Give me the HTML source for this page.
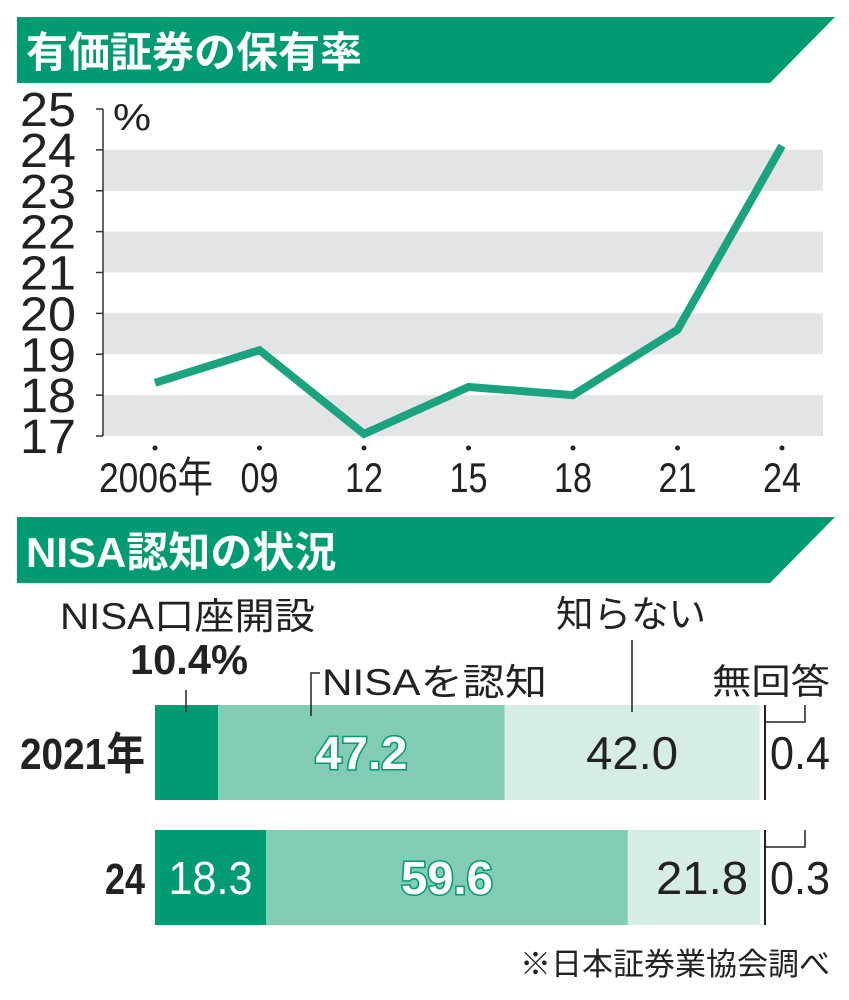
<!DOCTYPE html>
<html><head><meta charset="utf-8"><style>
body{margin:0;background:#fff}
svg{display:block}
text{font-family:"Liberation Sans","Noto Sans CJK JP",sans-serif}
</style></head><body>
<svg id="c" width="849" height="1000" viewBox="0 0 849 1000">
<polygon points="17,17 835,17 770,83 17,83" fill="#009a73"/>
<text x="26" y="67" font-size="42" font-weight="bold" fill="#fff">有価証券の保有率</text>
<g id="line-chart"></g>
<polygon points="17,517 835,517 770,583 17,583" fill="#009a73"/>
<text x="26" y="567" font-size="42" font-weight="bold" fill="#fff">NISA認知の状況</text>
<g id="bar-chart"></g>
<text x="830" y="975" font-size="31" text-anchor="end" fill="#222">※日本証券業協会調べ</text>
</svg>
<script>
const years=["2006年","09","12","15","18","21","24"];
const rates=[18.3,19.1,17.05,18.2,18.0,19.6,24.1];
const yTicks=[17,18,19,20,21,22,23,24,25];
const barRows=["2021年","24"];
const opened=[10.4,18.3];
const aware=[47.2,59.6];
const unaware=[42.0,21.8];
const noAnswer=[0.4,0.3];

const NS="http://www.w3.org/2000/svg";
function mk(tag,attrs,parent,txt){const e=document.createElementNS(NS,tag);for(const k in attrs)e.setAttribute(k,attrs[k]);if(txt!==undefined)e.textContent=txt;parent.appendChild(e);return e;}
const lc=document.getElementById('line-chart');
const y=v=>436-(v-17)*(436-109)/8;
const x=i=>155+i*(782-155)/6;
for(let v=17;v<25;v+=2){const r=mk('rect',{x:103,y:y(v+1),width:720,height:y(v)-y(v+1),fill:'#e3e4e5'},lc);

}
const ax=mk('line',{x1:103,y1:y(25),x2:103,y2:y(17),stroke:'#333','stroke-width':1.5},lc);


yTicks.forEach(v=>{
 const t=mk('line',{x1:96,y1:y(v),x2:103,y2:y(v),stroke:'#333','stroke-width':1.5},lc);
 
 
 const l=mk('text',{x:76,y:y(v)+17,'font-size':48,'text-anchor':'end',fill:'#222',textLength:56,lengthAdjust:'spacingAndGlyphs'},lc,String(v));
 
 
});
const pct=mk('text',{x:113,y:130,'font-size':38,fill:'#222',textLength:38,lengthAdjust:'spacingAndGlyphs'},lc,'%');


years.forEach((s,i)=>{
 const d=mk('circle',{cx:x(i),cy:448,r:2.5,fill:'#222'},lc);
 
 
 const w=i==0?114:38;
 const l=mk('text',{x:i==0?x(i)+58:x(i),y:492,'font-size':42,'text-anchor':i==0?'end':'middle',fill:'#222',textLength:w,lengthAdjust:'spacingAndGlyphs'},lc,s);
 
 
});
const pl=mk('polyline',{points:rates.map((v,i)=>x(i)+','+y(v)).join(' '),fill:'none',stroke:'#1aa37e','stroke-width':8,'stroke-linejoin':'miter'},lc);



const bc=document.getElementById('bar-chart');
const bx=v=>155+v*6.07;
const rowY=[705,830],bh=95;
const segs=[[opened,'#009a73','bar-opened'],[aware,'#82cbb4','bar-aware'],[unaware,'#d6ede5','bar-unaware']];
barRows.forEach((r,i)=>{
 let acc=0;
 segs.forEach(([arr,col,nm])=>{
  const rc=mk('rect',{x:bx(acc),y:rowY[i],width:bx(acc+arr[i])-bx(acc),height:bh,fill:col},bc);
  
  
  acc+=arr[i];
 });
 const vl=mk('line',{x1:765,y1:rowY[i],x2:765,y2:rowY[i]+bh,stroke:'#222','stroke-width':2},bc);
 
 
 const br=mk('polyline',{points:`805,${rowY[i]} 805,${rowY[i]+17} 765,${rowY[i]+17}`,fill:'none',stroke:'#222','stroke-width':1.5},bc);
 
 
 const cy=rowY[i]+64;
 const rl=mk('text',{x:145,y:cy,'font-size':44,'font-weight':'bold','text-anchor':'end',fill:'#222',textLength:i==0?125:40,lengthAdjust:'spacingAndGlyphs'},bc,r);
 
 
 if(i==1){const t=mk('text',{x:bx(opened[i]/2),y:cy,'font-size':46,'text-anchor':'middle',fill:'#fff',textLength:84,lengthAdjust:'spacingAndGlyphs'},bc,opened[i].toFixed(1));
  
  }
 const a=mk('text',{x:bx(opened[i]+aware[i]/2),y:cy,'font-size':46,'font-weight':'bold','text-anchor':'middle',fill:'#fff',stroke:'#009a73','stroke-width':3,'paint-order':'stroke',textLength:92,lengthAdjust:'spacingAndGlyphs'},bc,aware[i].toFixed(1));
 
 
 const ux=i==0?bx(opened[i]+aware[i]+unaware[i]/2):bx(opened[i]+aware[i]+unaware[i]/2)+8;
 const u=mk('text',{x:ux,y:cy,'font-size':46,'text-anchor':'middle',fill:'#222',textLength:92,lengthAdjust:'spacingAndGlyphs'},bc,unaware[i].toFixed(1));
 
 
 const n=mk('text',{x:770,y:cy,'font-size':46,fill:'#222',textLength:60,lengthAdjust:'spacingAndGlyphs'},bc,noAnswer[i].toFixed(1));
 
 
});
const labels=[['NISA口座開設',60,629,37,'normal',255],['10.4%',130,674,42,'bold',118],['NISAを認知',322,695,37,'normal',225],['知らない',556,627,37,'normal',150],['無回答',712,694,35,'normal',118]];
labels.forEach(([t,lx,ly,fs,fw,tl])=>{
 const e=mk('text',{x:lx,y:ly,'font-size':fs,'font-weight':fw,fill:'#222',textLength:tl,lengthAdjust:'spacingAndGlyphs'},bc,t);
 
 
});
const leaders=['186,690 186,712','320,673 311,673 311,716','632,640 632,712'];
leaders.forEach(p=>{
 const e=mk('polyline',{points:p,fill:'none',stroke:'#222','stroke-width':1.5},bc);
 
 
});
</script>
</body></html>
